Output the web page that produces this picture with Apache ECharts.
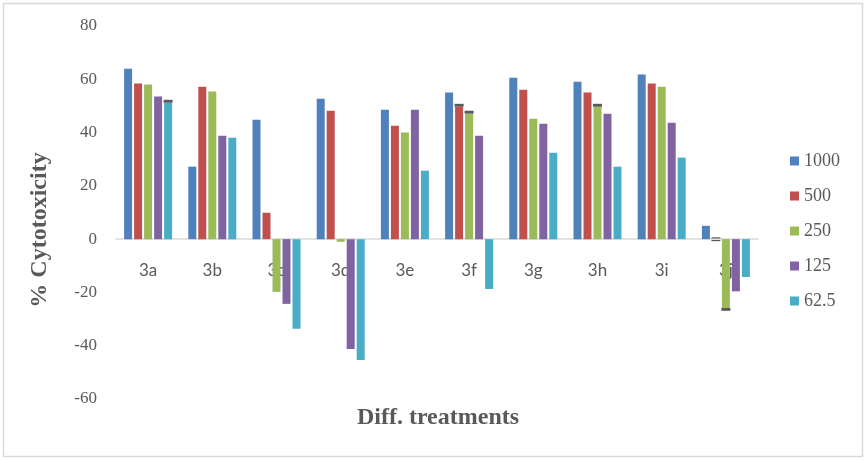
<!DOCTYPE html>
<html>
<head>
<meta charset="utf-8">
<script src="https://cdn.jsdelivr.net/npm/echarts@6/dist/echarts.min.js"></script>
<style>
html,body{margin:0;padding:0;background:#fff;}
#chart{width:867px;height:461px;}
</style>
</head>
<body>
<div id="chart"></div>
<script>
// ---- data ----
const categories = ['3a','3b','3c','3d','3e','3f','3g','3h','3i','3j'];
const seriesNames = ['1000','500','250','125','62.5'];
const v1000 = [64.0, 27.2, 44.8, 52.7, 48.6, 55.0, 60.6, 59.1, 61.8, 5.0];
const v500  = [58.4, 57.2, 9.9, 48.2, 42.6, 49.7, 56.1, 55.0, 58.4, 0];
const v250  = [58.0, 55.4, -19.8, -1.0, 40.0, 47.1, 45.2, 49.7, 57.2, -25.8];
const v125  = [53.5, 38.8, -24.3, -41.2, 48.6, 38.8, 43.3, 47.1, 43.7, -19.6];
const v62   = [51.2, 38.1, -33.6, -45.4, 25.7, -18.7, 32.4, 27.2, 30.6, -14.2];
// error magnitudes (null = none)
const e1000 = [null,null,null,null,null,null,null,null,null,null];
const e500  = [null,null,null,null,null,1.1,null,null,null,0.5];
const e250  = [null,null,null,null,null,1.1,null,1.1,null,1.1];
const e125  = [null,null,null,null,null,null,null,null,null,null];
const e62   = [1.1,null,null,null,null,null,null,null,null,null];
const yTicks = {min:-60, max:80, interval:20};

const values = [v1000, v500, v250, v125, v62];
const errors = [e1000, e500, e250, e125, e62];
const colors = ['#4F81BD','#C0504D','#9BBB59','#8064A2','#4BACC6'];

const errData = [];
errors.forEach((arr, si) => arr.forEach((e, ci) => {
  if (e != null) errData.push([ci, values[si][ci], e, si]);
}));

const BW = 8, GAP = 2;
const TOP = 26, BOTTOM = 62, H = 461;
const plotH = H - TOP - BOTTOM;
const zeroOffset = -plotH * (0 - yTicks.min) / (yTicks.max - yTicks.min);

const chart = echarts.init(document.getElementById('chart'));
const barSeries = seriesNames.map((n, i) => ({
  name: n, type: 'bar', data: values[i], barWidth: BW, barGap: '25%',
  itemStyle: {color: colors[i]}, z: 2
}));

chart.setOption({
  animation: false,
  backgroundColor: '#fff',
  grid: {left: 116, right: 109, top: TOP, bottom: BOTTOM},
  legend: {
    orient: 'vertical', left: 790, top: 152, padding: 0,
    data: seriesNames, icon: 'rect', itemWidth: 9, itemHeight: 9, itemGap: 17,
    textStyle: {color: '#595959', fontFamily: 'Liberation Serif', fontSize: 18, lineHeight: 18}
  },
  xAxis: {
    type: 'category', data: categories, offset: zeroOffset,
    axisLine: {onZero: false, lineStyle: {color: '#d9d9d9', width: 1.5}},
    axisTick: {show: false},
    axisLabel: {color: '#595959', fontFamily: 'Lato', fontSize: 17, margin: 23},
    splitLine: {show: false}
  },
  yAxis: {
    type: 'value', min: yTicks.min, max: yTicks.max, interval: yTicks.interval,
    axisLine: {show: false}, axisTick: {show: false}, splitLine: {show: false},
    axisLabel: {color: '#595959', fontFamily: 'Liberation Serif', fontSize: 17, margin: 19}
  },
  series: barSeries.concat([{
    type: 'custom', name: 'err', z: 3,
    data: errData, encode: {x: 0, y: 1},
    renderItem: function (params, api) {
      const ci = api.value(0), v = api.value(1), e = api.value(2), si = api.value(3);
      const base = api.coord([ci, 0]);
      const total = 5 * BW + 4 * GAP;
      const xc = base[0] - total / 2 + si * (BW + GAP) + BW / 2;
      const style = {fill: '#595959'};
      if (Math.abs(v) < 0.01) {
        const a = api.coord([ci, e]), b = api.coord([ci, -e]);
        return {type: 'group', children: [
          {type: 'rect', shape: {x: xc - 4.5, y: a[1] - 0.5, width: 9, height: 1.2}, style: style},
          {type: 'rect', shape: {x: xc - 4.5, y: b[1] - 0.5, width: 9, height: 1.2}, style: style}
        ]};
      }
      const s = v >= 0 ? 1 : -1;
      const p1 = api.coord([ci, v]), p2 = api.coord([ci, v + s * e]);
      return {type: 'rect', shape: {x: xc - 4.5, y: Math.min(p1[1], p2[1]), width: 9, height: Math.abs(p1[1] - p2[1])}, style: style};
    }
  }]),
  graphic: [
    {type: 'rect', shape: {x: 3.5, y: 3.5, width: 859, height: 453}, style: {fill: 'none', stroke: '#d9d9d9', lineWidth: 1.5}, silent: true},
    {type: 'text', x: 40, y: 230, rotation: Math.PI / 2,
      style: {text: '% Cytotoxicity', fill: '#595959', font: 'bold 24px "Liberation Serif"', align: 'center', verticalAlign: 'middle'}},
    {type: 'text', x: 438, y: 418,
      style: {text: 'Diff. treatments', fill: '#595959', font: 'bold 24px "Liberation Serif"', align: 'center', verticalAlign: 'middle'}}
  ]
});
</script>
</body>
</html>
